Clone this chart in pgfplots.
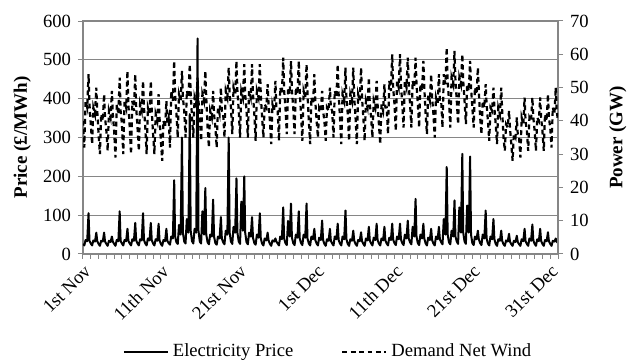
\documentclass[border=0pt]{standalone}
\usepackage{fontspec}
\setmainfont{Liberation Serif}
\usepackage{pgfplots}
\usepackage{pgfplotstable}
\pgfplotsset{compat=1.18}

\definecolor{axisgray}{RGB}{134,134,134}

% t = days since 1st Nov, p = price (GBP/MWh), d = demand net wind (GW)
\pgfplotstableread[row sep=\\]{
t p d \\
0 26 40 \\ 0.17 22 32 \\ 0.33 36 46 \\ 0.54 33 44 \\ 0.71 105 54 \\ 0.83 34 45 \\
1 27 39 \\ 1.17 22 33 \\ 1.33 35 44 \\ 1.54 32 42 \\ 1.71 55 50 \\ 1.83 33 43 \\
2 26 36 \\ 2.17 21 30 \\ 2.33 34 42 \\ 2.54 32 40 \\ 2.71 55 48 \\ 2.83 32 41 \\
3 26 37 \\ 3.17 21 31 \\ 3.33 34 43 \\ 3.54 31 41 \\ 3.71 45 49 \\ 3.83 32 42 \\
4 26 37 \\ 4.17 21 29 \\ 4.33 36 45 \\ 4.54 33 42 \\ 4.71 110 53 \\ 4.83 34 43 \\
5 27 39 \\ 5.17 22 30 \\ 5.33 36 46 \\ 5.54 33 44 \\ 5.71 65 55 \\ 5.83 34 45 \\
6 27 38 \\ 6.17 22 30 \\ 6.33 38 46 \\ 6.54 34 43 \\ 6.71 80 54 \\ 6.83 35 44 \\
7 27 38 \\ 7.17 22 31 \\ 7.33 38 45 \\ 7.54 35 43 \\ 7.71 105 52 \\ 7.83 36 44 \\
8 27 38 \\ 8.17 22 30 \\ 8.33 40 44 \\ 8.54 35 42 \\ 8.71 80 52 \\ 8.83 36 43 \\
9 27 36 \\ 9.17 22 30 \\ 9.33 38 42 \\ 9.54 34 40 \\ 9.71 78 48 \\ 9.83 35 41 \\
10 26 34 \\ 10.17 21 28 \\ 10.33 36 40 \\ 10.54 33 38 \\ 10.71 65 46 \\ 10.83 34 39 \\
11 28 41 \\ 11.17 24 32 \\ 11.33 45 49 \\ 11.54 40 46 \\ 11.71 190 58 \\ 11.83 45 48 \\
12 30 42 \\ 12.17 26 35 \\ 12.33 75 48 \\ 12.54 50 46 \\ 12.71 300 55 \\ 12.83 55 47 \\
13 32 43 \\ 13.17 27 35 \\ 13.33 90 49 \\ 13.54 55 47 \\ 13.71 360 57 \\ 13.83 60 48 \\
14 33 41 \\ 14.17 27 35 \\ 14.33 65 47 \\ 14.54 55 45 \\ 14.71 555 53 \\ 14.83 60 46 \\
15 32 41 \\ 15.17 27 34 \\ 15.33 110 48 \\ 15.54 50 46 \\ 15.71 170 55 \\ 15.83 50 47 \\
16 30 38 \\ 16.17 25 32 \\ 16.33 50 43 \\ 16.54 45 41 \\ 16.71 140 49 \\ 16.83 45 42 \\
17 28 38 \\ 17.17 24 32 \\ 17.33 45 44 \\ 17.54 40 42 \\ 17.71 95 50 \\ 17.83 40 43 \\
18 30 42 \\ 18.17 25 35 \\ 18.33 60 49 \\ 18.54 50 47 \\ 18.71 300 56 \\ 18.83 55 48 \\
19 32 44 \\ 19.17 26 36 \\ 19.33 70 50 \\ 19.54 55 48 \\ 19.71 195 58 \\ 19.83 55 49 \\
20 32 43 \\ 20.17 26 35 \\ 20.33 135 49 \\ 20.54 60 47 \\ 20.71 200 57 \\ 20.83 55 48 \\
21 30 43 \\ 21.17 25 35 \\ 21.33 55 49 \\ 21.54 45 47 \\ 21.71 95 57 \\ 21.83 42 48 \\
22 28 42 \\ 22.17 24 34 \\ 22.33 50 49 \\ 22.54 42 47 \\ 22.71 105 57 \\ 22.83 40 48 \\
23 27 41 \\ 23.17 22 35 \\ 23.33 40 45 \\ 23.54 35 44 \\ 23.71 55 51 \\ 23.83 35 45 \\
24 26 40 \\ 24.17 21 33 \\ 24.33 35 45 \\ 24.54 32 43 \\ 24.71 40 52 \\ 24.83 32 44 \\
25 27 43 \\ 25.17 22 34 \\ 25.33 45 50 \\ 25.54 38 48 \\ 25.71 120 59 \\ 25.83 40 49 \\
26 28 44 \\ 26.17 23 36 \\ 26.33 85 50 \\ 26.54 45 48 \\ 26.71 130 58 \\ 26.83 42 49 \\
27 28 44 \\ 27.17 23 36 \\ 27.33 50 50 \\ 27.54 42 48 \\ 27.71 110 58 \\ 27.83 40 49 \\
28 28 42 \\ 28.17 23 34 \\ 28.33 50 49 \\ 28.54 42 47 \\ 28.71 130 57 \\ 28.83 40 48 \\
29 27 40 \\ 29.17 22 33 \\ 29.33 45 47 \\ 29.54 38 45 \\ 29.71 65 54 \\ 29.83 36 46 \\
30 27 40 \\ 30.17 22 35 \\ 30.33 42 44 \\ 30.54 36 43 \\ 30.71 86 49 \\ 30.83 36 43 \\
31 26 40 \\ 31.17 21 34 \\ 31.33 38 44 \\ 31.54 34 43 \\ 31.71 65 50 \\ 31.83 34 44 \\
32 27 43 \\ 32.17 22 35 \\ 32.33 45 49 \\ 32.54 38 47 \\ 32.71 78 57 \\ 32.83 36 48 \\
33 27 41 \\ 33.17 22 33 \\ 33.33 45 48 \\ 33.54 38 46 \\ 33.71 112 56 \\ 33.83 38 47 \\
34 26 42 \\ 34.17 21 34 \\ 34.33 38 48 \\ 34.54 34 46 \\ 34.71 60 56 \\ 34.83 34 47 \\
35 26 41 \\ 35.17 21 33 \\ 35.33 36 48 \\ 35.54 33 46 \\ 35.71 56 56 \\ 35.83 33 47 \\
36 26 41 \\ 36.17 21 34 \\ 36.33 40 46 \\ 36.54 35 44 \\ 36.71 70 53 \\ 36.83 35 45 \\
37 27 41 \\ 37.17 22 35 \\ 37.33 42 46 \\ 37.54 36 44 \\ 37.71 78 52 \\ 37.83 36 45 \\
38 27 39 \\ 38.17 22 33 \\ 38.33 40 45 \\ 38.54 35 43 \\ 38.71 70 51 \\ 38.83 35 44 \\
39 27 44 \\ 39.17 22 36 \\ 39.33 42 52 \\ 39.54 36 49 \\ 39.71 78 60 \\ 39.83 37 50 \\
40 28 45 \\ 40.17 23 37 \\ 40.33 45 52 \\ 40.54 38 50 \\ 40.71 78 60 \\ 40.83 38 51 \\
41 28 45 \\ 41.17 23 38 \\ 41.33 50 52 \\ 41.54 40 50 \\ 41.71 86 59 \\ 41.83 40 51 \\
42 30 45 \\ 42.17 25 38 \\ 42.33 70 52 \\ 42.54 45 50 \\ 42.71 142 59 \\ 42.83 45 51 \\
43 28 45 \\ 43.17 23 38 \\ 43.33 50 51 \\ 43.54 40 49 \\ 43.71 78 58 \\ 43.83 40 50 \\
44 27 42 \\ 44.17 22 36 \\ 44.33 42 48 \\ 44.54 36 46 \\ 44.71 65 54 \\ 44.83 36 47 \\
45 27 42 \\ 45.17 22 35 \\ 45.33 45 47 \\ 45.54 38 45 \\ 45.71 70 54 \\ 45.83 38 46 \\
46 30 46 \\ 46.17 25 38 \\ 46.33 90 54 \\ 46.54 50 51 \\ 46.71 224 62 \\ 46.83 50 52 \\
47 30 46 \\ 47.17 25 38 \\ 47.33 60 53 \\ 47.54 45 51 \\ 47.71 138 61 \\ 47.83 45 52 \\
48 32 46 \\ 48.17 26 39 \\ 48.33 120 53 \\ 48.54 55 51 \\ 48.71 258 60 \\ 48.83 55 52 \\
49 32 46 \\ 49.17 26 39 \\ 49.33 125 51 \\ 49.54 55 49 \\ 49.71 251 58 \\ 49.83 50 50 \\
50 28 44 \\ 50.17 23 38 \\ 50.33 45 50 \\ 50.54 38 48 \\ 50.71 60 56 \\ 50.83 38 49 \\
51 28 41 \\ 51.17 23 36 \\ 51.33 50 46 \\ 51.54 40 44 \\ 51.71 112 51 \\ 51.83 40 45 \\
52 27 40 \\ 52.17 22 34 \\ 52.33 45 44 \\ 52.54 38 43 \\ 52.71 90 50 \\ 52.83 38 44 \\
53 26 39 \\ 53.17 21 33 \\ 53.33 38 44 \\ 53.54 34 42 \\ 53.71 60 50 \\ 53.83 34 43 \\
54 25 35 \\ 54.17 21 31 \\ 54.33 35 39 \\ 54.54 32 38 \\ 54.71 52 43 \\ 54.83 32 38 \\
55 25 33 \\ 55.17 21 28 \\ 55.33 34 36 \\ 55.54 31 35 \\ 55.71 47 41 \\ 55.83 31 36 \\
56 25 35 \\ 56.17 21 29 \\ 56.33 38 41 \\ 56.54 33 39 \\ 56.71 65 47 \\ 56.83 33 40 \\
57 26 37 \\ 57.17 21 31 \\ 57.33 40 41 \\ 57.54 34 40 \\ 57.71 76 47 \\ 57.83 35 41 \\
58 26 37 \\ 58.17 21 31 \\ 58.33 38 41 \\ 58.54 33 40 \\ 58.71 65 47 \\ 58.83 34 41 \\
59 26 37 \\ 59.17 21 31 \\ 59.33 36 42 \\ 59.54 33 40 \\ 59.71 56 48 \\ 59.83 33 41 \\
60 26 38 \\ 60.17 21 32 \\ 60.33 34 44 \\ 60.54 32 42 \\ 60.71 40 50 \\ 60.83 32 43 \\
61 28 40 \\
}\elec

\begin{document}
\begin{tikzpicture}[font=\fontsize{9.3}{11}\selectfont]
\useasboundingbox (-41.5pt,-54.5pt) rectangle (273.5pt,127pt);
\pgfplotsset{
    every axis/.append style={
        at={(0,0)}, anchor=south west,
        width=237.5pt, height=116.5pt, scale only axis,
        xmin=0, xmax=61, ymin=0,
        axis line style={axisgray, line width=0.6pt},
        tick style={axisgray, line width=0.5pt},
        tick align=outside,
        major tick length=2.5pt, minor tick length=2.5pt,
        /pgf/number format/assume math mode=true,
    },
}
\begin{axis}[
    ymax=600,
    ytick={0,100,...,600},
    ytick pos=left,
    xtick pos=lower,
    ymajorgrids,
    grid style={axisgray, line width=0.6pt},
    xtick={0,10,...,60},
    xticklabels={1st Nov,11th Nov,21st Nov,1st Dec,11th Dec,21st Dec,31st Dec},
    minor xtick={0,1,...,61},
    x tick label style={rotate=45, anchor=north east, inner sep=1.5pt},
    ylabel={\textbf{Price (£/MWh)}},
    ylabel style={at={(axis description cs:-0.128,0.5)}, anchor=center, font=\fontsize{9.5}{11}\selectfont},
]
\addplot[black, line width=1pt, line join=round] table[x=t, y=p] {\elec};
\end{axis}
\begin{axis}[
    ymax=70,
    axis x line=none,
    axis y line*=right,
    ytick={0,10,...,70},
    ylabel={\textbf{Power (GW)}},
    ylabel style={at={(axis description cs:1.126,0.5)}, anchor=center, font=\fontsize{9.5}{11}\selectfont},
    legend style={at={(axis description cs:0.518,-0.42)}, anchor=center, draw=none, fill=none,
        legend columns=2, /tikz/every even column/.append style={column sep=22pt}},
    legend image code/.code={\draw[#1] (0pt,0pt) -- (22pt,0pt);},
]
\addlegendimage{black, line width=1pt}
\addlegendentry{Electricity Price}
\addplot[black, line width=1.1pt, dash pattern=on 2.4pt off 1.8pt] table[x=t, y=d] {\elec};
\addlegendentry{Demand Net Wind}
\end{axis}
\end{tikzpicture}
\end{document}
